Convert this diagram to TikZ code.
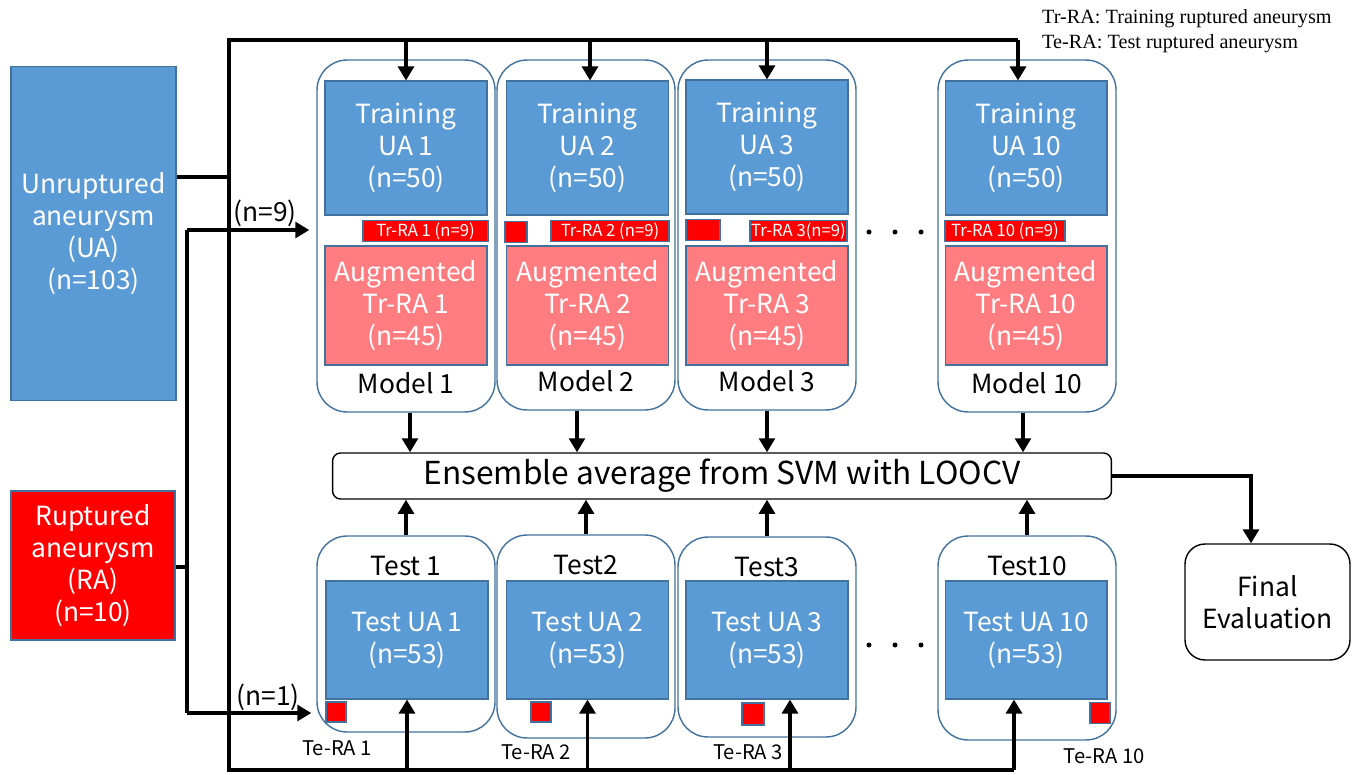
\documentclass[tikz,border=0pt]{standalone}
\usepackage{fontspec}
\setmainfont{Noto Sans CJK JP}
\newfontfamily\legendfont{Liberation Serif}
\usetikzlibrary{arrows.meta}

\definecolor{uablue}{HTML}{5B9BD5}
\definecolor{uaedge}{HTML}{41719C}
\definecolor{rared}{HTML}{FF0000}
\definecolor{augred}{HTML}{FF7C80}

\tikzset{
  databox/.style={draw=uaedge, line width=.6pt, text=white, align=center, inner sep=0pt,
    font=\fontsize{15}{18.2}\selectfont},
  uabox/.style={databox, fill=uablue},
  rabox/.style={databox, fill=rared},
  augbox/.style={databox, fill=augred},
  tagbox/.style={draw=uaedge, line width=.6pt, fill=rared, text=white, inner sep=0pt,
    minimum height=.42cm, font=\fontsize{9.5}{10}\selectfont},
  foldbox/.style={draw=uaedge, line width=.8pt, fill=white, rounded corners=.6cm,
    minimum width=3.56cm},
  plainbox/.style={draw=black, line width=.8pt, align=center, inner sep=0pt},
  lbl/.style={font=\fontsize{15}{18}\selectfont},
  small/.style={font=\fontsize{11.5}{13}\selectfont},
  thk/.style={line width=2.2pt},
  arr/.style={line width=2.2pt, -{Triangle[length=8pt,width=9pt]}}
}

\begin{document}
\begin{tikzpicture}[x=0.02cm, y=-0.02cm]
\useasboundingbox (0,0) rectangle (1355,774);

% legend
\node[anchor=west, font=\legendfont\fontsize{11.5}{13}\selectfont] (leg1) at (1036,19) {Tr-RA: Training ruptured aneurysm};
\node[anchor=west, font=\legendfont\fontsize{11.5}{13}\selectfont] (leg2) at (1036,44) {Te-RA: Test ruptured aneurysm};

% whole data sets
\node[uabox, minimum width=3.3cm, minimum height=6.7cm] (ua) at (93.5,233.5) {Unruptured\\aneurysm\\(UA)\\(n=103)};
\node[rabox, minimum width=3.28cm, minimum height=2.98cm] (ra) at (93,565.5) {Ruptured\\aneurysm\\(RA)\\(n=10)};

% training folds
\node[foldbox, minimum height=7.04cm] (m1) at (406,236) {};
\node[foldbox, minimum height=7.0cm] (m2) at (586,235) {};
\node[foldbox, minimum height=7.0cm] (m3) at (767,235) {};
\node[foldbox, minimum height=7.04cm] (m10) at (1027,236) {};

\node[uabox, minimum width=3.24cm, minimum height=2.68cm] (tr1) at (406,148) {Training\\UA 1\\(n=50)};
\node[uabox, minimum width=3.24cm, minimum height=2.68cm] (tr2) at (587.5,148) {Training\\UA 2\\(n=50)};
\node[uabox, minimum width=3.24cm, minimum height=2.68cm] (tr3) at (767,147) {Training\\UA 3\\(n=50)};
\node[uabox, minimum width=3.24cm, minimum height=2.68cm] (tr10) at (1026,148) {Training\\UA 10\\(n=50)};

\node[tagbox, minimum width=2.5cm] (tag1) at (425.5,231) {Tr-RA 1 (n=9)};
\node[tagbox, minimum width=.44cm] (sq2) at (516,232) {};
\node[tagbox, minimum width=2.36cm] (tag2) at (610,231) {Tr-RA 2 (n=9)};
\node[tagbox, minimum width=.68cm] (sq3) at (703,230) {};
\node[tagbox, minimum width=1.94cm] (tag3) at (798.5,231) {Tr-RA 3(n=9)};
\node[tagbox, minimum width=2.4cm] (tag10) at (1005,231) {Tr-RA 10 (n=9)};

\node[augbox, minimum width=3.24cm, minimum height=2.38cm] (aug1) at (406,305.5) {Augmented\\Tr-RA 1\\(n=45)};
\node[augbox, minimum width=3.24cm, minimum height=2.38cm] (aug2) at (587.5,305.5) {Augmented\\Tr-RA 2\\(n=45)};
\node[augbox, minimum width=3.24cm, minimum height=2.38cm] (aug3) at (767,305.5) {Augmented\\Tr-RA 3\\(n=45)};
\node[augbox, minimum width=3.24cm, minimum height=2.38cm] (aug10) at (1026,305.5) {Augmented\\Tr-RA 10\\(n=45)};

\node[lbl] (mod1) at (406,383) {Model 1};
\node[lbl] (mod2) at (586,381) {Model 2};
\node[lbl] (mod3) at (767,381) {Model 3};
\node[lbl] (mod10) at (1027,383) {Model 10};

\filldraw (869,232) circle (1.2pt) (895,232) circle (1.2pt) (921,232) circle (1.2pt);

% ensemble and result
\node[plainbox, rounded corners=.16cm, minimum width=15.58cm, minimum height=.92cm,
  font=\fontsize{18}{20}\selectfont] (ens) at (722,476) {Ensemble average from SVM with LOOCV};
\node[plainbox, rounded corners=.4cm, minimum width=3.3cm, minimum height=2.32cm,
  font=\fontsize{15}{18.2}\selectfont] (fin) at (1267.5,602) {Final\\Evaluation};

% test folds
\node[foldbox, minimum height=3.92cm] (t1) at (406,634) {};
\node[foldbox, minimum height=4.06cm] (t2) at (586,636.5) {};
\node[foldbox, minimum height=4.0cm] (t3) at (767,637) {};
\node[foldbox, minimum height=4.08cm] (t10) at (1027,638) {};

\node[lbl] (tl1) at (406,566) {Test 1};
\node[lbl] (tl2) at (586,565) {Test2};
\node[lbl] (tl3) at (767,567) {Test3};
\node[lbl] (tl10) at (1027,566) {Test10};

\node[uabox, minimum width=3.24cm, minimum height=2.36cm] (te1) at (407,640) {Test UA 1\\(n=53)};
\node[uabox, minimum width=3.24cm, minimum height=2.36cm] (te2) at (587.5,640) {Test UA 2\\(n=53)};
\node[uabox, minimum width=3.24cm, minimum height=2.36cm] (te3) at (767,640) {Test UA 3\\(n=53)};
\node[uabox, minimum width=3.24cm, minimum height=2.36cm] (te10) at (1026,640) {Test UA 10\\(n=53)};

\node[tagbox, minimum width=.4cm, minimum height=.4cm] (ter1) at (336,712) {};
\node[tagbox, minimum width=.4cm, minimum height=.4cm] (ter2) at (541,712) {};
\node[tagbox, minimum width=.44cm, minimum height=.44cm] (ter3) at (753,714) {};
\node[tagbox, minimum width=.4cm, minimum height=.42cm] (ter10) at (1100,713) {};

\node[small] (tn1) at (337,748) {Te-RA 1};
\node[small] (tn2) at (536,752) {Te-RA 2};
\node[small] (tn3) at (748,752) {Te-RA 3};
\node[small] (tn10) at (1104,756) {Te-RA 10};

\filldraw (869,645) circle (1.2pt) (895,645) circle (1.2pt) (921,645) circle (1.2pt);

% UA distribution bus
\coordinate (uaout) at (229,177);
\coordinate (topL) at (229,40);
\coordinate (botL) at (229,770);
\coordinate (topR) at (1018,40);
\coordinate (botR) at (1014,770);
\draw[thk] (ua.east |- uaout) -- (uaout);
\draw[thk] (topR) -- (topL) -- (botL) -- (botR);
\draw[arr] (tr1.north |- topL) -- (tr1.north);
\draw[arr] ([xshift=.05cm]tr2.north |- topL) -- ([xshift=.05cm]tr2.north);
\draw[arr] (tr3.north |- topL) -- (tr3.north);
\draw[arr] (topR) -- (topR |- tr10.north);
\draw[arr] (te1.south |- botL) -- (te1.south);
\draw[arr] (te2.south |- botL) -- (te2.south);
\draw[arr] ([xshift=.46cm]te3.south |- botL) -- ([xshift=.46cm]te3.south);
\draw[arr] (botR) -- (botR |- te10.south);

% RA distribution
\coordinate (raout) at (187,567);
\coordinate (raup) at (187,230);
\coordinate (radn) at (187,713);
\draw[thk] (ra.east |- raout) -- (raout);
\draw[thk] (raup) -- (radn);
\draw[arr] (raup) -- ([xshift=-.14cm]m1.west |- raup);
\draw[arr] (radn) -- ([xshift=-.1cm]t1.west |- radn);
\node[lbl] (n9) at (265,213) {(n=9)};
\node[lbl] (n1) at (268,697) {(n=1)};

% into the ensemble
\draw[arr, line width=1.8pt] ([xshift=.08cm]m1.south) -- ([xshift=.08cm]m1.south |- ens.north);
\draw[arr, line width=1.8pt] ([xshift=-.18cm]m2.south) -- ([xshift=-.18cm]m2.south |- ens.north);
\draw[arr, line width=1.8pt] (m3.south) -- (m3.south |- ens.north);
\draw[arr, line width=1.8pt] ([xshift=-.08cm]m10.south) -- ([xshift=-.08cm]m10.south |- ens.north);
\draw[arr, line width=1.8pt] (t1.north) -- (t1.north |- ens.south);
\draw[arr, line width=1.8pt] (t2.north) -- (t2.north |- ens.south);
\draw[arr, line width=1.8pt] (t3.north) -- (t3.north |- ens.south);
\draw[arr, line width=1.8pt] (t10.north) -- (t10.north |- ens.south);
\draw[arr] (ens.east) -| ([xshift=-.33cm]fin.north);
\end{tikzpicture}
\end{document}
